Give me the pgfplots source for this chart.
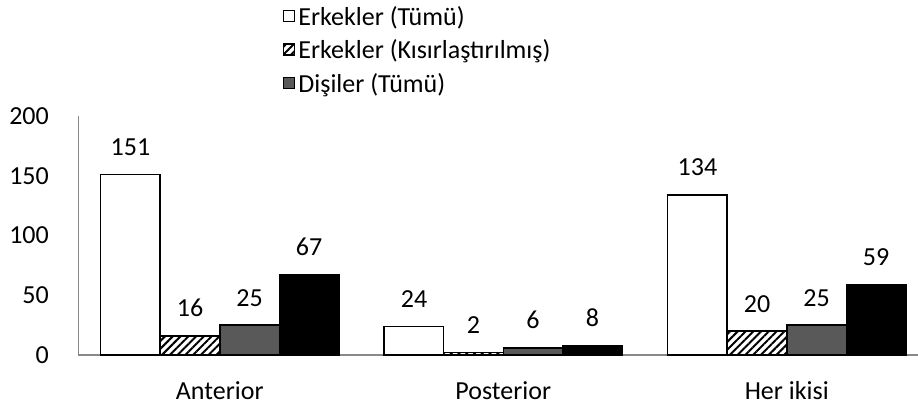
\documentclass[border=0pt]{standalone}
\usepackage{fontspec}
\setmainfont{Carlito}
\usepackage{pgfplots}
\pgfplotsset{compat=1.18}
\usetikzlibrary{patterns,patterns.meta}
\newcommand\cf{\fontsize{26bp}{31bp}\selectfont}
\definecolor{axgray}{HTML}{898989}
\definecolor{bargray}{HTML}{595959}
\pgfplotsset{sqlegend/.style={legend image code/.code={\draw[##1,line width=1bp] (0bp,-3.5bp) rectangle (11bp,7.5bp); \path (14bp,0bp);}}}
\begin{document}
\begin{tikzpicture}
\useasboundingbox (0,0) rectangle (918bp,408bp);
\begin{axis}[
  at={(78bp,53bp)}, anchor=south west,
  scale only axis, width=840bp, height=239bp,
  xmin=-0.5, xmax=2.463, ymin=0, ymax=200,
  ybar, bar width=59.5bp,
  xtick={0,1,2}, xticklabels={Anterior,Posterior,Her ikisi},
  ytick={0,50,100,150,200},
  major tick length=0pt,
  axis x line=bottom, axis y line=left,
  x axis line style={-, draw=axgray, line width=1.5bp},
  y axis line style={-, draw=axgray, line width=1bp},
  /pgf/number format/assume math mode=true,
  tick label style={font=\cf, inner sep=0pt},
  yticklabel style={anchor=east, xshift=-29bp},
  xticklabel style={anchor=north, text height=17bp, yshift=-27bp},
  nodes near coords,
  every node near coord/.append style={font=\cf, inner sep=0pt, anchor=south, yshift=18bp, text=black},
  clip=false,
  legend cell align=left,
  legend style={at={(0.244,1.4644)}, anchor=north west, draw=none, fill=none,
    font=\cf, inner sep=0pt, row sep=7.5bp,
    nodes={inner sep=0pt, text height=20bp, text depth=6bp}},
]
\addplot[bar shift=-89.25bp, draw=black, line width=1.5bp, fill=white, sqlegend]
  coordinates {(0,151) (1,24) (2,134)};
\addlegendentry{Erkekler (Tümü)}
\addplot[bar shift=-29.75bp, draw=black, line width=1.5bp, preaction={fill=white},
  pattern={Lines[angle=45,distance=5.5bp,line width=2bp]}, pattern color=black, sqlegend]
  coordinates {(0,16) (1,2) (2,20)};
\addlegendentry{Erkekler (Kısırlaştırılmış)}
\addplot[bar shift=29.75bp, draw=black, line width=1.5bp, fill=bargray, sqlegend]
  coordinates {(0,25) (1,6) (2,25)};
\addlegendentry{Dişiler (Tümü)}
\addplot[bar shift=89.25bp, draw=black, line width=1.5bp, fill=black, forget plot]
  coordinates {(0,67) (1,8) (2,59)};
\end{axis}
\end{tikzpicture}
\end{document}
